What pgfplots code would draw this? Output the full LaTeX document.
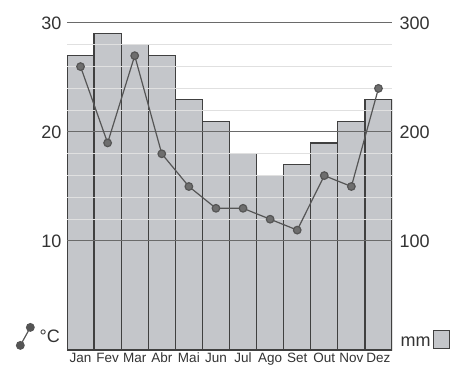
\documentclass[border=0pt]{standalone}
\usepackage{pgfplots}
\pgfplotsset{compat=1.18}
\usepackage{fontspec}
\setmainfont{Liberation Sans}

\definecolor{barfill}{HTML}{C4C6CA}
\definecolor{baredge}{HTML}{404040}
\definecolor{txt}{HTML}{333333}
\definecolor{majgrid}{HTML}{6A6A6A}
\definecolor{mingrid}{HTML}{E0E0E0}
\definecolor{tline}{HTML}{555555}

% mm (right axis)
\pgfplotstableread{
x mm
0 270
1 290
2 280
3 270
4 230
5 210
6 180
7 160
8 170
9 190
10 210
11 230
}\rain

% degrees (left axis)
\pgfplotstableread{
x t
0 26
1 19
2 27
3 18
4 15
5 13
6 13
7 12
8 11
9 16
10 15
11 24
}\temp

\begin{document}
\begin{tikzpicture}
\useasboundingbox (-67pt,-20pt) rectangle (383pt,350pt);
\pgfplotsset{
  base/.style={
    scale only axis, width=325pt, height=327pt,
    xmin=-0.5, xmax=11.5,
    major tick length=0pt, minor tick length=0pt,
    tick label style={color=txt, font=\fontsize{18}{20}\selectfont},
    /pgf/number format/assume math mode=true,
  }
}
\begin{axis}[base,
  ymin=0, ymax=300,
  axis y line*=right, axis x line*=bottom,
  y axis line style={draw=none},
  x axis line style={draw=baredge, line width=1.2pt},
  ytick={100,200,300},
  yticklabel style={xshift=4pt},
  xtick={0,...,11},
  xticklabels={Jan,Fev,Mar,Abr,Mai,Jun,Jul,Ago,Set,Out,Nov,Dez},
  xticklabel style={font=\fontsize{13.5}{15}\selectfont,
    text height=1.4ex, text depth=0.3ex, yshift=-2pt},
  legend plot pos=right,
  legend style={draw=none, fill=none, at={(1.02,0)}, anchor=south west,
    inner sep=0pt, font=\fontsize{18}{20}\selectfont\color{txt}},
  legend image code/.code={\draw[#1] (0pt,-6pt) rectangle (16pt,12pt);},
]
\addplot[ybar, bar width=1, fill=barfill, draw=baredge, line width=1.2pt]
  table[x=x, y=mm] {\rain};
\addlegendentry{mm}
\end{axis}
\begin{axis}[base,
  ymin=0, ymax=30,
  axis y line*=left, axis x line*=bottom,
  axis line style={draw=none},
  ytick={10,20,30},
  minor y tick num=4,
  yticklabel style={xshift=-2pt},
  xtick=\empty,
  ymajorgrids, yminorgrids,
  major grid style={draw=majgrid, line width=1pt},
  minor grid style={draw=mingrid, line width=0.9pt},
  legend style={draw=none, fill=none, at={(-0.015,0)}, anchor=south east,
    inner sep=0pt, font=\fontsize{18}{20}\selectfont\color{txt}},
  legend image code/.code={
    \draw[tline, line width=1.2pt] (0pt,-8pt) -- (10pt,10pt);
    \fill[tline] (0pt,-8pt) circle (3.8pt);
    \fill[tline] (10pt,10pt) circle (3.8pt);},
]
\addplot[tline, line width=1.2pt, mark=*, mark size=3.8pt,
  mark options={fill=tline!85, draw=tline}]
  table[x=x, y=t] {\temp};
\addlegendentry{\,°C}
\end{axis}
\end{tikzpicture}
\end{document}
